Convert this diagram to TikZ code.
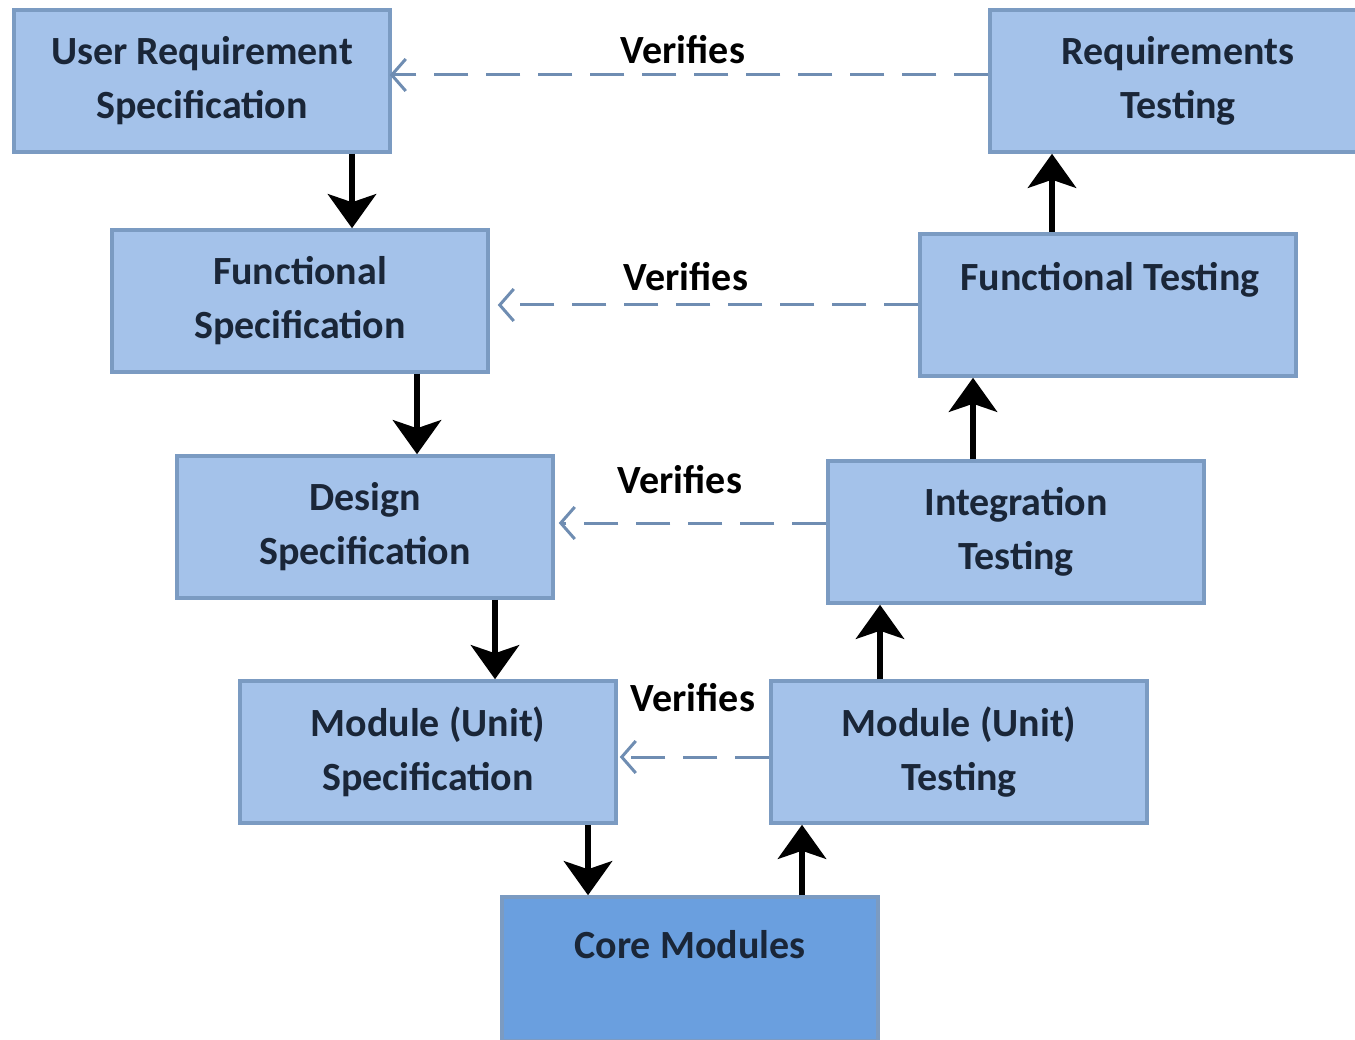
\documentclass[tikz,border=0pt]{standalone}
\usepackage{fontspec}
\setmainfont{Carlito}
\usetikzlibrary{arrows.meta,calc}
\definecolor{boxfill}{HTML}{A4C2EA}
\definecolor{boxline}{HTML}{7B9BC2}
\definecolor{corefill}{HTML}{6A9FDF}
\definecolor{boxtext}{HTML}{1A2638}
\definecolor{dashcol}{HTML}{6F8DB2}
\tikzset{
  box/.style={draw=boxline, fill=boxfill, line width=3.5pt, minimum width=376pt, minimum height=142pt,
    inner sep=0pt, align=center, text=boxtext, font=\fontsize{40}{54}\selectfont\bfseries},
  corebox/.style={box, fill=corefill},
  boxlabel/.style={text=boxtext, inner sep=0pt, font=\fontsize{40}{54}\selectfont\bfseries},
  blk/.style={line width=6.5pt, black, -{Stealth[length=34pt,width=48pt,inset=8pt]}},
  ver/.style={dashcol, line width=3pt, dash pattern=on 34pt off 18pt, -{Straight Barb[length=14pt,width=32pt,line width=3pt]}},
  verlab/.style={inner sep=0pt, text=black, font=\fontsize{40}{44}\selectfont\bfseries}
}
\begin{document}
\begin{tikzpicture}[x=1pt,y=-1pt]
\fill[white] (0,0) rectangle (1355,1040);
\useasboundingbox (0,0) rectangle (1355,1040);

\node[box] (URS) at (202,81) {User Requirement\\Specification};
\node[box] (RT) at (1178,81) {Requirements\\Testing};
\node[box] (FS) at (300,301) {Functional\\Specification};
\node[box] (FT) at (1108,305) {};
\node[boxlabel] (FTt) at (1110,280) {Functional Testing};
\node[box] (DS) at (365,527) {Design\\Specification};
\node[box] (IT) at (1016,532) {Integration\\Testing};
\node[box] (MS) at (428,752) {Module (Unit)\\Specification};
\node[box] (MT) at (959,752) {Module (Unit)\\Testing};
\node[corebox, minimum height=144pt] (CM) at (690,969) {};
\node[boxlabel] (CMt) at (690,945) {Core Modules};

% black flow arrows
\draw[blk] ([xshift=150pt]URS.south) -- ([xshift=150pt]URS.south |- FS.north);
\draw[blk] ([xshift=117pt]FS.south) -- ([xshift=117pt]FS.south |- DS.north);
\draw[blk] ([xshift=130pt]DS.south) -- ([xshift=130pt]DS.south |- MS.north);
\draw[blk] ([xshift=160pt]MS.south) -- ([xshift=160pt]MS.south |- CM.north);
\draw[blk] ([xshift=112pt]CM.north) -- ([xshift=112pt]CM.north |- MT.south);
\draw[blk] ([xshift=-79pt]MT.north) -- ([xshift=-79pt]MT.north |- IT.south);
\draw[blk] ([xshift=-43pt]IT.north) -- ([xshift=-43pt]IT.north |- FT.south);
\draw[blk] ([xshift=-56pt]FT.north) -- ([xshift=-56pt]FT.north |- RT.south);

% verifies arrows
\draw[ver, shorten >=-2pt] ([yshift=6pt]RT.west) -- ([yshift=6pt]RT.west -| URS.east);
\draw[ver, shorten >=8pt] (FT.west) -- (FT.west -| FS.east);
\draw[ver, shorten >=4pt] ([yshift=9pt]IT.west) -- ([yshift=9pt]IT.west -| DS.east);
\draw[ver, shorten >=2pt] ([yshift=-5pt]MT.west) -- ([yshift=-5pt]MT.west -| MS.east);

\node[verlab] (v1) at (683,50) {Verifies};
\node[verlab] (v2) at (686,277) {Verifies};
\node[verlab] (v3) at (680,480) {Verifies};
\node[verlab] (v4) at (693,698) {Verifies};
\end{tikzpicture}
\end{document}
